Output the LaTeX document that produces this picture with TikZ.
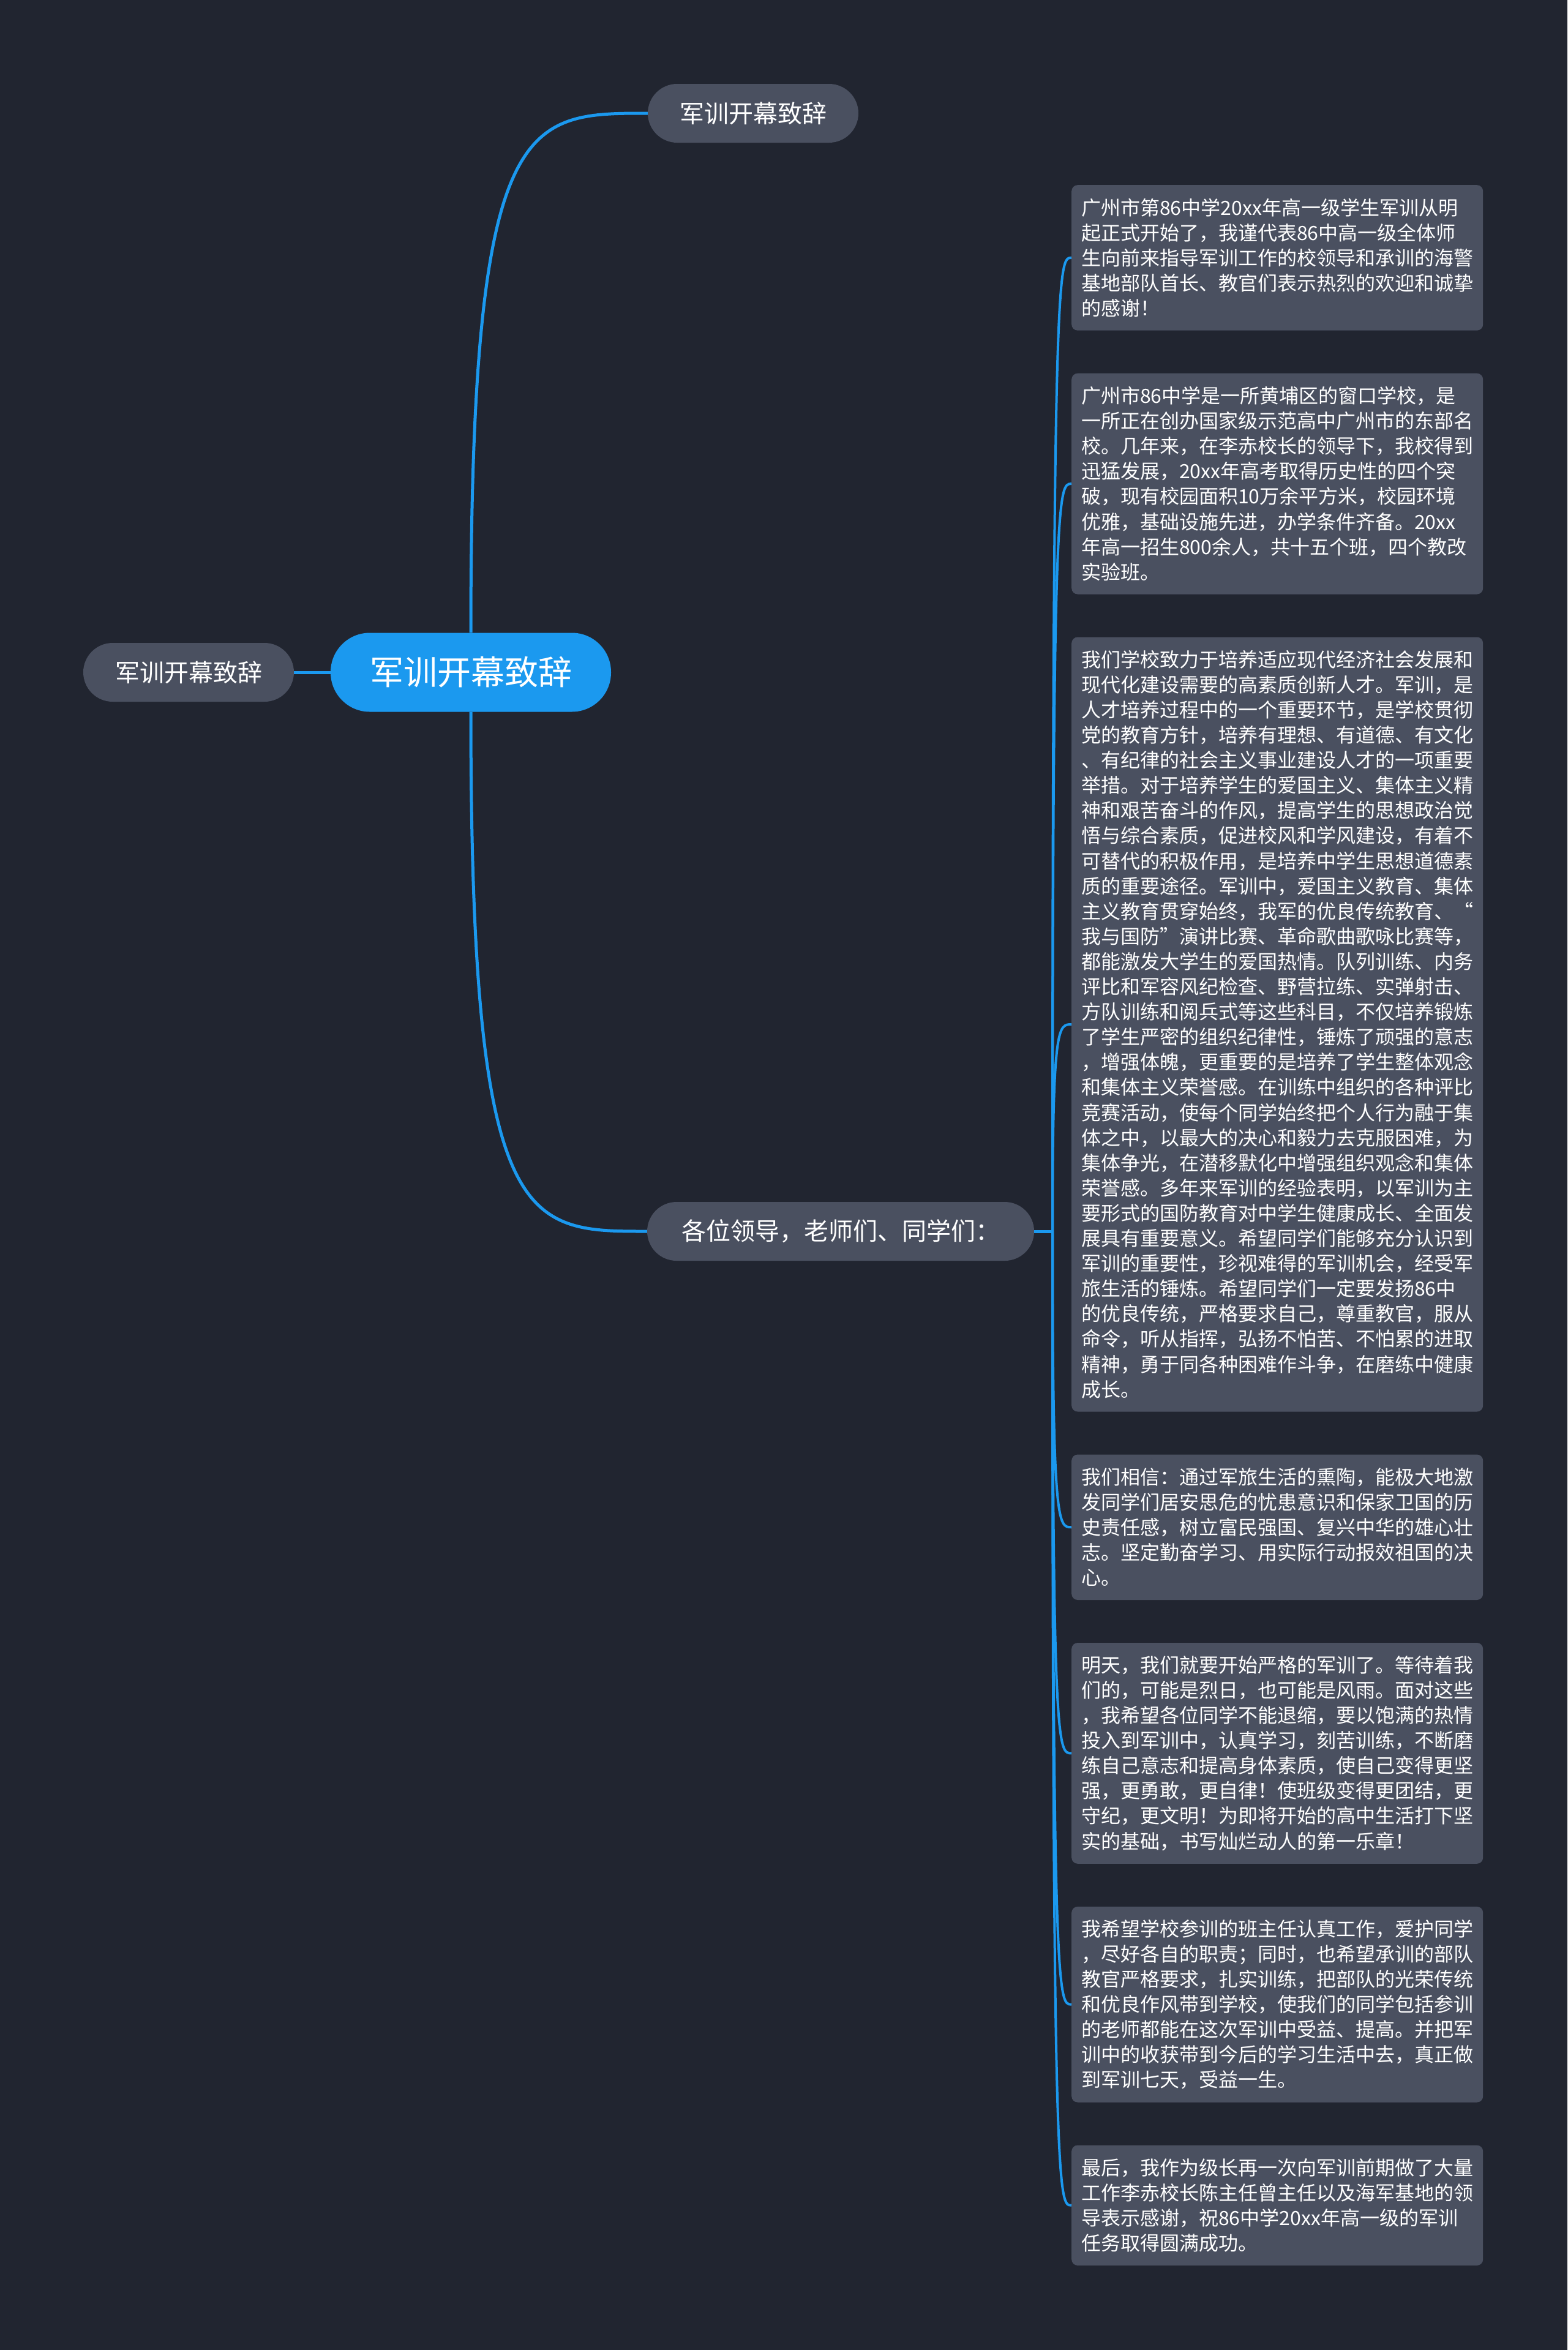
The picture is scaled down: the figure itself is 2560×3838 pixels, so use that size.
\documentclass[tikz,border=0pt]{standalone}
\usepackage{fontspec}
\usetikzlibrary{calc}
\setmainfont{Noto Sans CJK SC}
\definecolor{bg}{RGB}{33,37,48}
\definecolor{nodefill}{RGB}{74,80,96}
\definecolor{accent}{RGB}{27,153,239}
\begin{document}
\begin{tikzpicture}[x=1pt,y=-1pt,
  topic/.style={fill=nodefill, text=white, rounded corners=48pt, minimum height=96pt, inner sep=0pt, font=\fontsize{40}{48}\selectfont},
  rootnode/.style={fill=accent, text=white, rounded corners=64pt, minimum height=129pt, minimum width=458pt, inner sep=0pt, font=\fontsize{55}{64}\selectfont},
  textbox/.style={fill=nodefill, text=white, rounded corners=10pt, anchor=north west, text width=640pt, align=left, inner xsep=16pt, inner ysep=0pt, font=\fontsize{32}{41.1}\selectfont},
  conn/.style={draw=accent, line width=5pt},
  subconn/.style={draw=accent, line width=4pt}
]
\useasboundingbox[fill=bg] (0,0) rectangle (2560,3838);

\node[rootnode] (root) at (769,1098) {军训开幕致辞};
\node[topic, minimum width=344pt] (left) at (308,1098) {军训开幕致辞};
\node[topic, minimum width=344pt] (top) at (1230,185) {军训开幕致辞};
\node[topic, minimum width=632pt] (gw) at (1373,2011) {各位领导，老师们、同学们：};

\node[textbox, minimum height=237.5pt] (b1) at (1750,302) {广州市第86中学20xx年高一级学生军训从明\\
起正式开始了，我谨代表86中高一级全体师\\
生向前来指导军训工作的校领导和承训的海警\\
基地部队首长、教官们表示热烈的欢迎和诚挚\\
的感谢！};

\node[textbox, minimum height=360.8pt] (b2) at (1750,609.5) {广州市86中学是一所黄埔区的窗口学校，是\\
一所正在创办国家级示范高中广州市的东部名\\
校。几年来，在李赤校长的领导下，我校得到\\
迅猛发展，20xx年高考取得历史性的四个突\\
破，现有校园面积10万余平方米，校园环境\\
优雅，基础设施先进，办学条件齐备。20xx\\
年高一招生800余人，共十五个班，四个教改\\
实验班。};

\node[textbox, minimum height=1265pt] (b3) at (1750,1040.3) {我们学校致力于培养适应现代经济社会发展和\\
现代化建设需要的高素质创新人才。军训，是\\
人才培养过程中的一个重要环节，是学校贯彻\\
党的教育方针，培养有理想、有道德、有文化\\
、有纪律的社会主义事业建设人才的一项重要\\
举措。对于培养学生的爱国主义、集体主义精\\
神和艰苦奋斗的作风，提高学生的思想政治觉\\
悟与综合素质，促进校风和学风建设，有着不\\
可替代的积极作用，是培养中学生思想道德素\\
质的重要途径。军训中，爱国主义教育、集体\\
主义教育贯穿始终，我军的优良传统教育、“\\
我与国防”演讲比赛、革命歌曲歌咏比赛等，\\
都能激发大学生的爱国热情。队列训练、内务\\
评比和军容风纪检查、野营拉练、实弹射击、\\
方队训练和阅兵式等这些科目，不仅培养锻炼\\
了学生严密的组织纪律性，锤炼了顽强的意志\\
，增强体魄，更重要的是培养了学生整体观念\\
和集体主义荣誉感。在训练中组织的各种评比\\
竞赛活动，使每个同学始终把个人行为融于集\\
体之中，以最大的决心和毅力去克服困难，为\\
集体争光，在潜移默化中增强组织观念和集体\\
荣誉感。多年来军训的经验表明，以军训为主\\
要形式的国防教育对中学生健康成长、全面发\\
展具有重要意义。希望同学们能够充分认识到\\
军训的重要性，珍视难得的军训机会，经受军\\
旅生活的锤炼。希望同学们一定要发扬86中\\
的优良传统，严格要求自己，尊重教官，服从\\
命令，听从指挥，弘扬不怕苦、不怕累的进取\\
精神，勇于同各种困难作斗争，在磨练中健康\\
成长。};

\node[textbox, minimum height=237.5pt] (b4) at (1750,2375.3) {我们相信：通过军旅生活的熏陶，能极大地激\\
发同学们居安思危的忧患意识和保家卫国的历\\
史责任感，树立富民强国、复兴中华的雄心壮\\
志。坚定勤奋学习、用实际行动报效祖国的决\\
心。};

\node[textbox, minimum height=360.8pt] (b5) at (1750,2682.8) {明天，我们就要开始严格的军训了。等待着我\\
们的，可能是烈日，也可能是风雨。面对这些\\
，我希望各位同学不能退缩，要以饱满的热情\\
投入到军训中，认真学习，刻苦训练，不断磨\\
练自己意志和提高身体素质，使自己变得更坚\\
强，更勇敢，更自律！使班级变得更团结，更\\
守纪，更文明！为即将开始的高中生活打下坚\\
实的基础，书写灿烂动人的第一乐章！};

\node[textbox, minimum height=319.7pt] (b6) at (1750,3113.6) {我希望学校参训的班主任认真工作，爱护同学\\
，尽好各自的职责；同时，也希望承训的部队\\
教官严格要求，扎实训练，把部队的光荣传统\\
和优良作风带到学校，使我们的同学包括参训\\
的老师都能在这次军训中受益、提高。并把军\\
训中的收获带到今后的学习生活中去，真正做\\
到军训七天，受益一生。};

\node[textbox, minimum height=196.4pt] (b7) at (1750,3503.3) {最后，我作为级长再一次向军训前期做了大量\\
工作李赤校长陈主任曾主任以及海军基地的领\\
导表示感谢，祝86中学20xx年高一级的军训\\
任务取得圆满成功。};

\draw[conn] (root.west) -- (left.east);
\draw[conn] (root.north) .. controls (root.north |- top.west) and ($(root.north |- top.west)!0.3!(top.west)$) .. (top.west);
\draw[conn] (root.south) .. controls (root.south |- gw.west) and ($(root.south |- gw.west)!0.3!(gw.west)$) .. (gw.west);

\coordinate (trunk) at (1719,2011);
\draw[conn] (gw.east) -- (trunk);
\foreach \b in {b1,b2,b3,b4,b5,b6,b7}{
  \draw[subconn] (trunk) .. controls (trunk |- \b.west) and ($(trunk |- \b.west)!0.3!(\b.west)$) .. (\b.west);
}
\end{tikzpicture}
\end{document}
